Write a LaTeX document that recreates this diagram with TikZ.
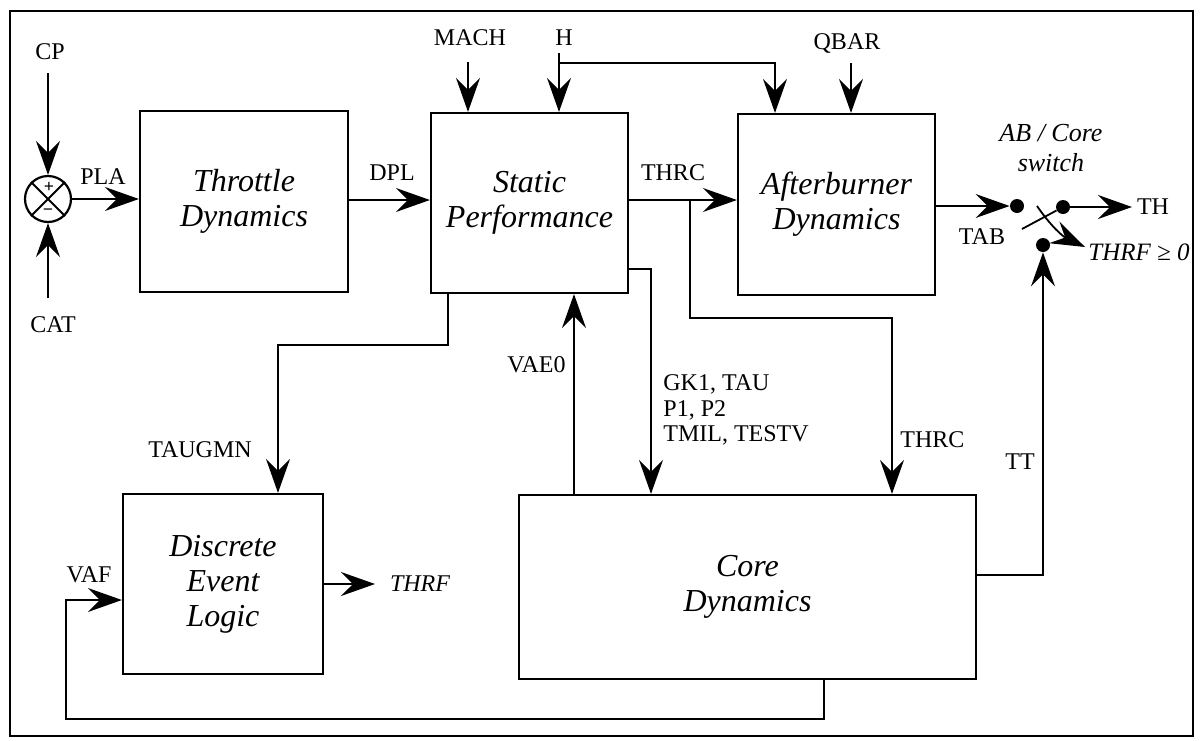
\documentclass[tikz,border=0pt]{standalone}
\usepackage{fontspec}
\setmainfont{Liberation Serif}
\usetikzlibrary{arrows.meta}

\tikzset{
    bloco/.style={draw, line width=1.1pt, align=center, inner sep=0pt,
        font=\fontsize{16}{17.5}\selectfont\itshape},
    seta/.style={line width=0.9pt, -{Stealth[length=17pt, width=12pt, inset=6pt]}},
    linha/.style={line width=0.9pt},
    ponto/.style={circle, fill, inner sep=0pt, minimum size=7pt},
    rotulo/.style={font=\fontsize{12}{14}\selectfont\itshape}
}

\begin{document}
\begin{tikzpicture}[x=0.5pt, y=-0.5pt, every node/.style={font=\fontsize{12}{14}\selectfont}]
        \useasboundingbox (0,0) rectangle (1200,740);
        % Moldura
        \draw[line width=1.2pt] (10,11) rectangle (1193,736);

        % Blocos
        \node[bloco, minimum width=104pt, minimum height=90.5pt] (throttle) at (244,201.5) {Throttle\\Dynamics};
        \node[bloco, minimum width=98.5pt, minimum height=90pt] (static) at (529.5,203) {Static\\Performance};
        \node[bloco, minimum width=98.5pt, minimum height=90.5pt] (ab) at (836.5,204.5) {Afterburner\\Dynamics};
        \node[bloco, minimum width=100pt, minimum height=90pt] (del) at (223,584) {Discrete\\Event\\Logic};
        \node[bloco, minimum width=228.5pt, minimum height=92pt] (core) at (747.5,587) {Core\\Dynamics};

        % Somador
        \node[draw, circle, minimum size=23pt, inner sep=0pt, line width=1.1pt] (soma) at (48,199) {};
        \draw[linha] (soma.north west) -- (soma.south east)
            (soma.north east) -- (soma.south west);
        \node[font=\bfseries\fontsize{9}{9}\selectfont, inner sep=0pt] (mais) at (49,187) {+};
        \node[font=\bfseries\fontsize{9}{9}\selectfont, inner sep=0pt] (menos) at (48,212) {−};

        % Entradas
        \node (cp) at (50,52) {CP};
        \node (cat) at (53,325) {CAT};
        \coordinate (cpin) at (48,73);
        \coordinate (catin) at (48,298);
        \draw[seta] (cpin) -- (soma.north);
        \draw[seta] (catin) -- (soma.south);
        \node (pla) at (103,177) {PLA};
        \draw[seta] (soma.east) -- (throttle.west |- soma.east);
        \node (dpl) at (392,173) {DPL};
        \draw[seta] (throttle.east |- 0,200) -- (static.west |- 0,200);

        \node (mach) at (470,38) {MACH};
        \node (h) at (564,38) {H};
        \node (qbar) at (847,43) {QBAR};
        \coordinate (machin) at (468,62);
        \coordinate (hin) at (559,53);
        \coordinate (hjoin) at (559,63);
        \coordinate (qbarin) at (851,63);
        \draw[seta] (machin) -- (machin |- static.north);
        \draw[seta] (hin) -- (hin |- static.north);
        \draw[seta] (hjoin) -| (ab.north -| 775,0);
        \draw[seta] (qbarin) -- (qbarin |- ab.north);

        % THRC
        \node (thrc) at (673,173) {THRC};
        \draw[seta] (static.east |- 0,200) -- (ab.west |- 0,200);
        \coordinate (thrcjoin) at (690,200);
        \draw[seta] (thrcjoin) |- (892,318) -- (core.north -| 892,0);
        \node[anchor=west, inner sep=0pt] (thrcb) at (900,440) {THRC};

        % Static -> Core
        \draw[seta] (static.east |- 0,269) -| (core.north -| 651,0);
        \node[align=left, anchor=west, inner sep=0pt, font=\fontsize{12}{12.8}\selectfont] (gk) at (663,410) {GK1, TAU\\P1, P2\\TMIL, TESTV};
        \draw[seta] (core.north -| 574,0) -- (static.south -| 574,0);
        \node[anchor=east, inner sep=0pt] (vae) at (566,365) {VAE0};

        % TAUGMN
        \draw[seta] (static.south -| 448,0) |- (278,345) -- (del.north -| 278,0);
        \node (taugmn) at (200,450) {TAUGMN};

        % Discrete Event Logic
        \coordinate (thrfout) at (375,584);
        \draw[seta] (del.east |- thrfout) -- (thrfout);
        \node[rotulo, anchor=west] (thrf) at (383,584) {THRF};
        \draw[seta] (core.south -| 824,0) |- (66,719) |- (del.west |- 0,600);
        \node (vaf) at (89,575) {VAF};

        % Chave AB / Core
        \node[ponto] (s1) at (1017,206) {};
        \node[ponto] (s2) at (1063,207) {};
        \node[ponto] (s3) at (1043,245) {};
        \draw[seta] (ab.east |- s1) -- (s1);
        \node (tab) at (982,237) {TAB};
        \coordinate (thout) at (1132,207);
        \draw[seta] (s2) -- (thout);
        \node (th) at (1153,207) {TH};
        \coordinate (alav) at (1022,229);
        \draw[linha] (alav) -- (s2);
        \coordinate (cva) at (1037,206);
        \coordinate (cvb) at (1085,247);
        \draw[seta] (cva) to[bend right=15] (cvb);
        \node[rotulo, font=\fontsize{13}{15}\selectfont\itshape, align=center] (sw) at (1051,148) {AB / Core\\switch};
        \node[rotulo, font=\fontsize{12.5}{15}\selectfont\itshape, anchor=west, inner sep=0pt] (cond) at (1088,252) {THRF ≥ 0};
        \draw[seta] (core.east |- 0,575) -| (s3);
        \node (tt) at (1020,462) {TT};
    \end{tikzpicture}
\end{document}
